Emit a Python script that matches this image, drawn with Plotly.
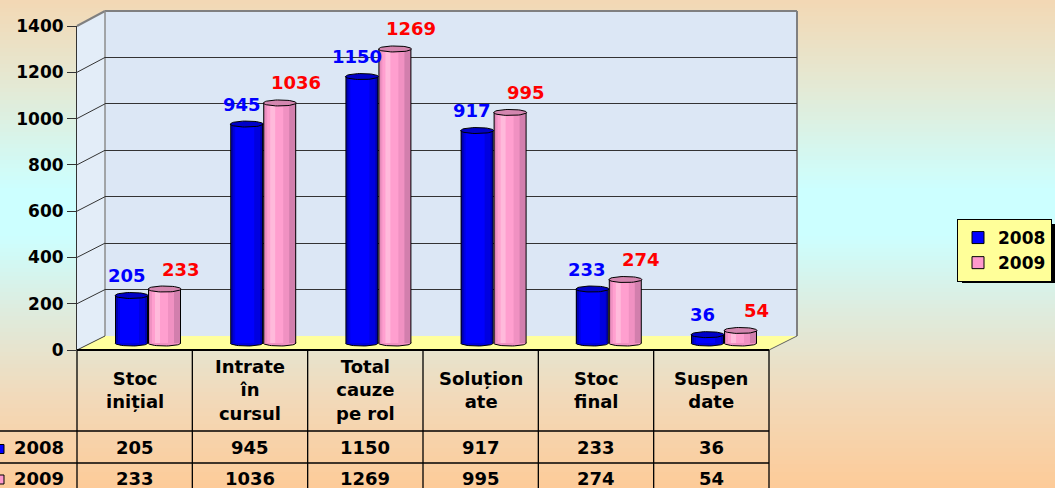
import numpy as np
import plotly.graph_objects as go

W, H = 1055, 488

# ---------------- data ----------------
categories = ["Stoc<br>inițial", "Intrate<br>în<br>cursul", "Total<br>cauze<br>pe rol",
              "Soluțion<br>ate", "Stoc<br>final", "Suspen<br>date"]
series_names = ["2008", "2009"]
values_2008 = [205, 945, 1150, 917, 233, 36]
values_2009 = [233, 1036, 1269, 995, 274, 54]
y_ticks = [0, 200, 400, 600, 800, 1000, 1200, 1400]

# ---------------- helpers ----------------
def X(p):
    return p / W


def Y(p):
    return 1 - p / H


def hex2rgb(h):
    h = h.lstrip("#")
    return [int(h[i:i + 2], 16) for i in (0, 2, 4)]


FONT = "DejaVu Sans"
BLUE, PINK = "#0000FF", "#FF99CC"

# geometry (pixels)
F_L, F_R, F_T, F_B = 77, 769, 26, 350      # front plane
B_L, B_R, B_T, B_B = 105, 797, 11, 336     # back wall
BAR_ZERO, BAR_SCALE = 343, 0.2317          # bars plane
GROUP_W = 115.2                             # px per category
G0 = 148                                    # first group center px
YMIN = -20

shapes = []

# background gradient
stops = [(0, "#F3D8B4"), (90, "#E3EAD6"), (190, "#CCFFFF"), (235, "#CCFFFF"),
         (320, "#E0EADA"), (400, "#F2D9B9"), (488, "#FDCB98")]
sy = [s[0] for s in stops]
sc = np.array([hex2rgb(s[1]) for s in stops])
for y0 in range(0, H, 4):
    ym = y0 + 2
    rgb = [int(round(np.interp(ym, sy, sc[:, k]))) for k in range(3)]
    shapes.append(dict(type="rect", xref="paper", yref="paper", layer="below",
                       x0=0, x1=1, y0=Y(min(y0 + 4.6, H)), y1=Y(y0),
                       fillcolor="rgb(%d,%d,%d)" % tuple(rgb), line=dict(width=0)))


def poly(pts, fill, line_color=None, width=0):
    path = "M " + " L ".join("%f,%f" % (X(a), Y(b)) for a, b in pts) + " Z"
    shapes.append(dict(type="path", xref="paper", yref="paper", layer="below", path=path,
                       fillcolor=fill,
                       line=dict(color=line_color or "rgba(0,0,0,0)", width=width)))


def seg(x0, y0, x1, y1, color, width=1, layer="below"):
    shapes.append(dict(type="line", xref="paper", yref="paper", layer=layer,
                       x0=X(x0), y0=Y(y0), x1=X(x1), y1=Y(y1),
                       line=dict(color=color, width=width)))


# walls and floor
poly([(B_L, B_T), (B_R, B_T), (B_R, B_B), (B_L, B_B)], "#DCE7F5")
poly([(F_L, F_T), (B_L, B_T), (B_L, B_B), (F_L, F_B)], "#E3EDF8")
poly([(F_L, F_B), (B_L, B_B), (B_R, B_B), (F_R, F_B)], "#FFFF9E")
seg(F_L, F_T, B_L, B_T, "#808080", 2)
seg(B_L, B_T, B_R, B_T, "#808080", 2)
seg(B_R, B_T, B_R, B_B, "#808080", 2)
seg(B_L, B_T, B_L, B_B, "#8C8C8C", 1.5)
seg(F_L, F_B, B_L, B_B, "#404040", 1)
seg(F_R, F_B, B_R, B_B, "#606060", 1)

# side wall grid diagonals
for v in y_ticks[1:-1]:
    yf = F_B - v * (F_B - F_T) / 1400
    yb = B_B - v * (B_B - B_T) / 1400
    seg(F_L, yf, B_L, yb, "#333333", 1)

# table grid
col_w = (F_R - F_L) / len(categories)
seg(F_L, F_B, F_R, F_B, "#000000", 2)
seg(0, 431, F_R, 431, "#000000", 1.3)
seg(0, 463, F_R, 463, "#000000", 1.3)
for k in range(len(categories) + 1):
    seg(F_L + k * col_w, F_B, F_L + k * col_w, H + 2, "#000000", 1.3)

# legend keys in table row labels
for (yc, col) in [(449, BLUE), (479.5, PINK)]:
    shapes.append(dict(type="rect", xref="paper", yref="paper", layer="below",
                       x0=X(-5), x1=X(4), y0=Y(yc + 4.5), y1=Y(yc - 4.5),
                       fillcolor=col, line=dict(color="#000000", width=1)))

# legend shadow
LEG_X = 957
shapes.append(dict(type="rect", xref="paper", yref="paper", layer="above",
                   x0=X(LEG_X + 5), x1=X(1070), y0=Y(283), y1=Y(224),
                   fillcolor="#000000", line=dict(width=0)))

# ---------------- traces ----------------
fig = go.Figure()
idx = np.arange(len(categories))
U = 1.0 / GROUP_W            # x units per px
VB = 3.0 / BAR_SCALE         # ellipse half-height in value units

# placeholder traces so that the wall-grid and front-axis subplots are drawn
fig.add_trace(go.Scatter(x=[None], y=[None], xaxis="x", yaxis="y", showlegend=False,
                         hoverinfo="skip"))

blue_strips = [(-33, 0, "#000000"), (-32, -1, "#0000B0"), (-30, -3, "#0000E0"), (-28, -9, "#0000FF")]
pink_strips = [(0, 33, "#000000"), (1, 32, "#D27FAD"), (2, 26, "#F091C2"), (4, 20, "#FF9FCF"),
               (7, 12, "#FFBADB")]

for vals, strips in [(values_2008, blue_strips), (values_2009, pink_strips)]:
    for l, r, c in strips:
        fig.add_trace(go.Bar(x=idx, y=vals, width=(r - l) * U, offset=l * U,
                             marker=dict(color=c, line=dict(width=0)),
                             xaxis="x2", yaxis="y2", showlegend=False, hoverinfo="skip"))


def ellipses(vals, l, r, full):
    xs, ys = [], []
    a = (r - l) / 2 * U
    for i, v in enumerate(vals):
        cx = i + (l + r) / 2 * U
        if full:
            t = np.linspace(0, 2 * np.pi, 49)
            cy = v
        else:
            t = np.linspace(np.pi, 2 * np.pi, 25)
            cy = 0
        xs += list(cx + a * np.cos(t)) + [None]
        ys += list(cy + VB * np.sin(t)) + [None]
    return xs, ys


for vals, (l, r), body, cap in [(values_2008, (-33, 0), "#0000E0", "#0000C8"),
                                (values_2009, (0, 33), "#F091C2", "#D386AF")]:
    bx, by = ellipses(vals, l, r, False)
    fig.add_trace(go.Scatter(x=bx, y=by, mode="lines", fill="toself", fillcolor=body,
                             line=dict(color="#000000", width=1), xaxis="x2", yaxis="y2",
                             showlegend=False, hoverinfo="skip"))
    tx, ty = ellipses(vals, l, r, True)
    fig.add_trace(go.Scatter(x=tx, y=ty, mode="lines", fill="toself", fillcolor=cap,
                             line=dict(color="#000000", width=1), xaxis="x2", yaxis="y2",
                             showlegend=False, hoverinfo="skip"))

# legend entries
for name, col in zip(series_names, [BLUE, PINK]):
    fig.add_trace(go.Bar(x=[None], y=[None], name=name, xaxis="x2", yaxis="y2",
                         marker=dict(color=col, line=dict(color="#000000", width=1))))

fig.add_trace(go.Scatter(x=[None], y=[None], xaxis="x3", yaxis="y3", showlegend=False,
                         hoverinfo="skip"))

# ---------------- annotations ----------------
ann = []
for vals, col, (l, r), xs in [(values_2008, "#0000FF", (-33, 0), -5),
                              (values_2009, "#FF0000", (0, 33), 16)]:
    for i, v in enumerate(vals):
        ann.append(dict(x=i + (l + r) / 2 * U, y=v, xref="x2", yref="y2", text=str(v),
                        showarrow=False, xshift=xs, yshift=20, yanchor="middle",
                        font=dict(family=FONT, size=18, color=col, weight="bold")))

for k, cat in enumerate(categories):
    cx = X(F_L + (k + 0.5) * col_w)
    ann.append(dict(x=cx, y=Y(390), xref="paper", yref="paper", text=cat, showarrow=False,
                    xanchor="center", yanchor="middle",
                    font=dict(family=FONT, size=18, color="#000000", weight="bold")))
    for vals, yc in [(values_2008, 447), (values_2009, 478)]:
        ann.append(dict(x=cx, y=Y(yc), xref="paper", yref="paper", text=str(vals[k]),
                        showarrow=False, xanchor="center", yanchor="middle",
                        font=dict(family=FONT, size=18, color="#000000", weight="bold")))

for name, yc in zip(series_names, [447, 478]):
    ann.append(dict(x=X(39), y=Y(yc), xref="paper", yref="paper", text=name, showarrow=False,
                    xanchor="center", yanchor="middle",
                    font=dict(family=FONT, size=18, color="#000000", weight="bold")))

# ---------------- layout ----------------
hidden = dict(visible=False, showgrid=False, zeroline=False, fixedrange=True)
fig.update_layout(
    width=W, height=H, autosize=False,
    margin=dict(l=0, r=0, t=0, b=0, pad=0, autoexpand=False),
    paper_bgcolor="#E6EED8", plot_bgcolor="rgba(0,0,0,0)",
    font=dict(family=FONT, color="#000000"),
    barmode="overlay",
    shapes=shapes, annotations=ann,
    # back wall grid
    xaxis=dict(domain=[X(B_L), X(B_R)], range=[0, 1], anchor="y", **hidden),
    yaxis=dict(domain=[Y(B_B), Y(B_T)], range=[0, 1400], anchor="x", showgrid=True,
               gridcolor="#333333", gridwidth=1, tickmode="array", tickvals=y_ticks[1:-1],
               showticklabels=False, ticks="", zeroline=False, showline=False, fixedrange=True),
    # bars plane
    xaxis2=dict(domain=[X(G0 - GROUP_W / 2), X(G0 + GROUP_W * (len(categories) - 0.5))],
                range=[-0.5, len(categories) - 0.5], anchor="y2", **hidden),
    yaxis2=dict(domain=[Y(BAR_ZERO - YMIN * BAR_SCALE), Y(BAR_ZERO - 1400 * BAR_SCALE)],
                range=[YMIN, 1400], anchor="x2", **hidden),
    # front value axis
    xaxis3=dict(domain=[X(F_L), X(F_R)], range=[0, 1], anchor="y3", **hidden),
    yaxis3=dict(domain=[Y(F_B), Y(F_T)], range=[0, 1400], anchor="x3", tickmode="array",
                tickvals=y_ticks, ticks="outside", ticklen=9, tickwidth=1, tickcolor="#333333",
                showline=True, linecolor="#333333", linewidth=1, showgrid=False, zeroline=False,
                tickfont=dict(family=FONT, size=17, color="#000000", weight="bold"),
                fixedrange=True),
    legend=dict(x=X(LEG_X), y=Y(219), xanchor="left", yanchor="top", bgcolor="#FFFF99",
                bordercolor="#000000", borderwidth=1,
                font=dict(family=FONT, size=17, color="#000000", weight="bold")),
    showlegend=True,
)

fig.write_html("out.html", config={"displayModeBar": False},
               post_script="document.body.style.margin='0';document.body.style.overflow='hidden';")
